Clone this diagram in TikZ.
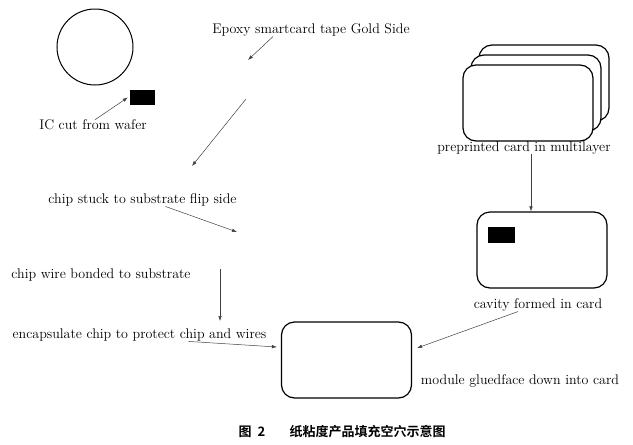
\documentclass[tikz,border=0pt]{standalone}
\usepackage{fontspec}
\newfontfamily\cjkfont{Noto Sans CJK SC}[BoldFont={Noto Sans CJK SC Bold}]
\usepackage{tikz}
\usetikzlibrary{arrows.meta,positioning}
\tikzset{
  lbl/.style={font=\fontsize{14}{16}\selectfont, inner sep=0pt},
  flow/.style={-{Latex[length=5pt,width=3.5pt]}, black!75, line width=0.5pt},
  card/.style={draw, line width=1.2pt, rounded corners=13pt, fill=white,
    minimum width=130pt, minimum height=76pt},
  chipbox/.style={fill=black, inner sep=0pt}
}

\begin{document}
\begin{tikzpicture}[x=1pt,y=-1pt]
        \useasboundingbox (0,0) rectangle (633,445);
        % wafer and cut chip
        \node[draw, circle, line width=1pt, minimum size=76pt] (wafer) at (95,47) {};
        \node[chipbox, minimum width=25pt, minimum height=15pt] (chip) at (142.5,97.5) {};
        \node[lbl] (icl) at (93,125) {IC cut from wafer};
        \draw[flow] ([xshift=2pt]icl.north) -- ([xshift=-2pt]chip.west);
        % tape and substrate
        \node[lbl] (epx) at (311,30) {Epoxy smartcard tape Gold Side};
        \coordinate (tape) at (248,60);
        \draw[flow] ([xshift=-38pt]epx.south) -- (tape);
        \coordinate (sub) at (246,99);
        \coordinate (flip) at (192,166);
        \draw[flow] (sub) -- (flip);
        \node[lbl] (fls) at (142.5,200) {chip stuck to substrate flip side};
        \coordinate (bond) at (237,232);
        \draw[flow] ([xshift=23pt]fls.south) -- (bond);
        \node[lbl] (wbl) at (101,275) {chip wire bonded to substrate};
        \coordinate (wtop) at (220,269);
        \coordinate (wbot) at (220,321);
        \draw[flow] (wtop) -- (wbot);
        \node[lbl] (enc) at (139.5,335) {encapsulate chip to protect chip and wires};
        % finished card
        \node[card] (final) at (346.5,360) {};
        \draw[flow] ([xshift=49pt]enc.south) -- ([xshift=-4pt,yshift=13pt]final.west);
        \node[lbl] (mod) at (520,381) {module gluedface down into card};
        % multilayer cards
        \node[card] (back) at (544,83) {};
        \node[card] (mid) at (536,93) {};
        \node[card] (front) at (528,103) {};
        \node[lbl] (pre) at (524,148) {preprinted card in multilayer};
        \node[card] (cavcard) at (542,250) {};
        \node[chipbox, minimum width=27pt, minimum height=16pt] (cavity) at (501.5,235) {};
        \draw[flow] ([xshift=7pt]pre.south) -- ([xshift=-11pt]cavcard.north);
        \node[lbl] (cav) at (538,305) {cavity formed in card};
        \draw[flow] ([xshift=-20pt]cav.south) -- ([xshift=5pt,yshift=12pt]final.east);
        % caption
        \node[font=\cjkfont\bfseries\fontsize{13}{15}\selectfont, inner sep=0pt] (fig) at (252,432) {图\ \ 2};
        \node[font=\cjkfont\bfseries\fontsize{13}{15}\selectfont, inner sep=0pt, right=24pt of fig] (cap) {纸粘度产品填充空穴示意图};
      \end{tikzpicture}
\end{document}
